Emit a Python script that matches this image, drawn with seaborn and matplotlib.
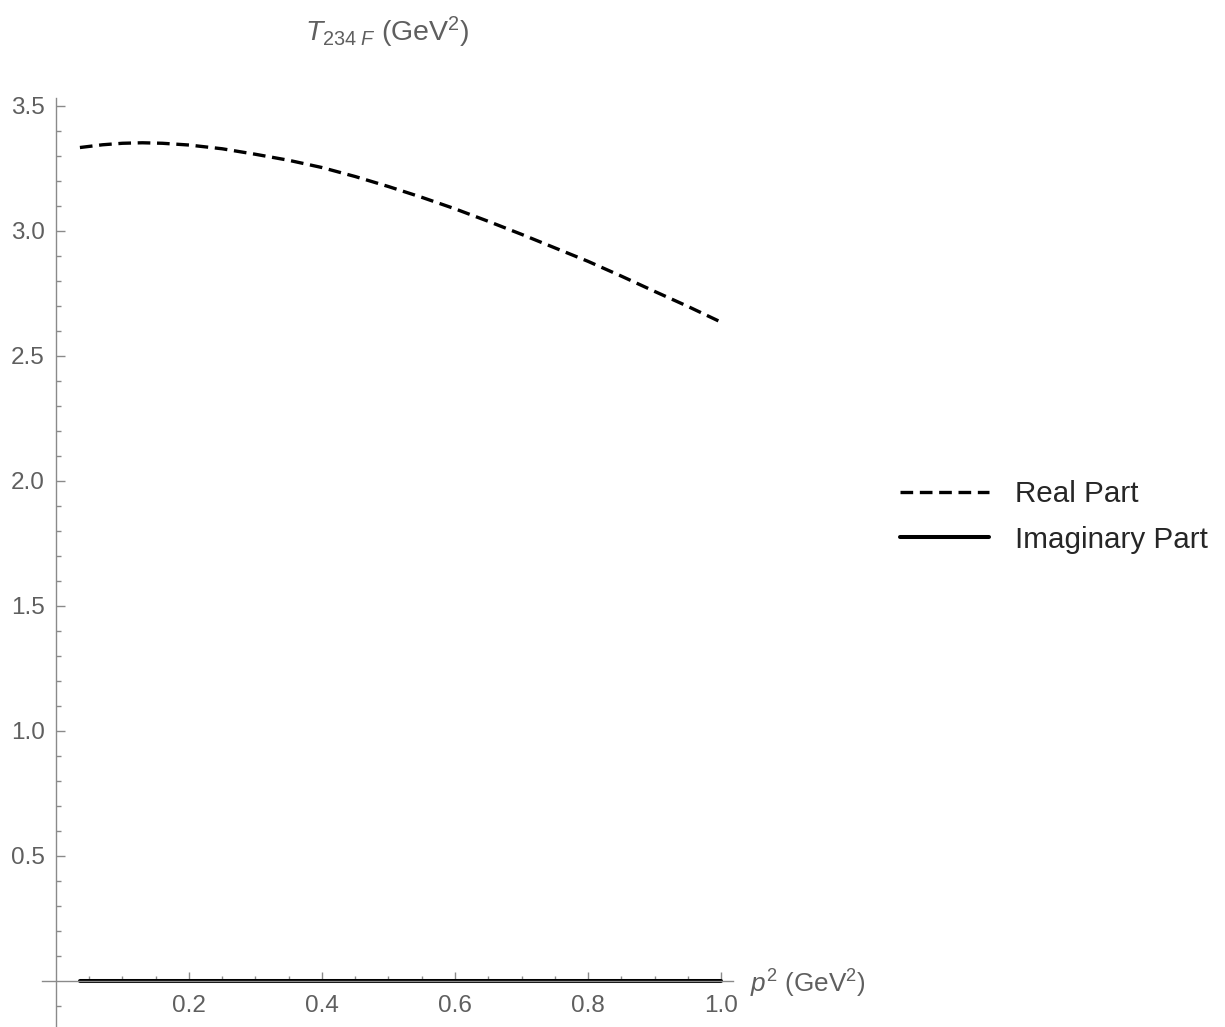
import numpy as np
import pandas as pd
import seaborn as sns
import matplotlib
matplotlib.use("Agg")
import matplotlib.pyplot as plt
from matplotlib.lines import Line2D

# ---- data ----
p2 = [0.036, 0.07, 0.10, 0.13, 0.16, 0.20, 0.25, 0.30, 0.35, 0.40, 0.45, 0.50,
      0.55, 0.60, 0.65, 0.70, 0.75, 0.80, 0.85, 0.90, 0.95, 1.00]
real_part = [3.332, 3.343, 3.349, 3.351, 3.349, 3.342, 3.327, 3.305, 3.281, 3.252,
             3.216, 3.176, 3.133, 3.087, 3.037, 2.985, 2.931, 2.877, 2.818, 2.757,
             2.697, 2.634]
imag_part = [0.0, 0.0, 0.0, 0.0, 0.0, 0.0, 0.0, 0.0, 0.0, 0.0, 0.0, 0.0,
             0.0, 0.0, 0.0, 0.0, 0.0, 0.0, 0.0, 0.0, 0.0, 0.0]

x_major = [0.2, 0.4, 0.6, 0.8, 1.0]
x_major_labels = ["0.2", "0.4", "0.6", "0.8", "1.0"]
y_major = [0.5, 1.0, 1.5, 2.0, 2.5, 3.0, 3.5]
y_major_labels = ["0.5", "1.0", "1.5", "2.0", "2.5", "3.0", "3.5"]
series_names = ["Real Part", "Imaginary Part"]

df = pd.DataFrame({"p2": p2, "real": real_part, "imag": imag_part})

sns.set_style("white")
plt.rcParams["font.family"] = ["Liberation Sans", "DejaVu Sans"]
plt.rcParams["mathtext.fontset"] = "custom"
plt.rcParams["mathtext.rm"] = "Liberation Sans"
plt.rcParams["mathtext.it"] = "Liberation Sans:italic"
plt.rcParams["mathtext.bf"] = "Liberation Sans:bold"

GREY = "#8a8a8a"
LABEL = "#5f5f5f"
DASH = (0, (3.8, 2.0))

fig = plt.figure(figsize=(12.25, 10.27), dpi=100)
ax = fig.add_axes([42 / 1225, 0.0, (733 - 42) / 1225, (1027 - 98) / 1027])

sns.lineplot(data=df, x="p2", y="real", ax=ax, color="black", lw=2.4,
             linestyle=DASH, legend=False)
sns.lineplot(data=df, x="p2", y="imag", ax=ax, color="black", lw=2.9,
             legend=False)

ax.set_xlim(-0.021, 1.018)
ax.set_ylim(-0.184, 3.53)

for s in ["top", "right"]:
    ax.spines[s].set_visible(False)
ax.spines["left"].set_position(("data", 0))
ax.spines["bottom"].set_position(("data", 0))
for s in ["left", "bottom"]:
    ax.spines[s].set_color(GREY)
    ax.spines[s].set_linewidth(1.0)
    ax.spines[s].set_zorder(3)

ax.set_xticks(x_major, x_major_labels)
ax.set_yticks(y_major, y_major_labels)
x_minor = [round(0.05 * i, 2) for i in range(1, 20) if i % 4 != 0]
y_minor = [round(0.1 * i, 2) for i in range(-1, 36) if i % 5 != 0]
ax.set_xticks(x_minor, minor=True)
ax.set_yticks(y_minor, minor=True)
ax.tick_params(which="both", bottom=True, left=True, top=False, right=False)
ax.tick_params(which="major", direction="in", length=6.5, width=1.0,
               color=GREY, labelcolor=LABEL, labelsize=17.5)
ax.tick_params(axis="x", which="major", pad=10)
ax.tick_params(axis="y", which="major", pad=8)
ax.tick_params(which="minor", direction="in", length=3.6, width=1.0, color=GREY)
ax.set_xlabel("")
ax.set_ylabel("")
ax.grid(False)

ax.text(1.044, -0.01, r"$p^2$ (GeV$^2$)", ha="left", va="center",
        color=LABEL, fontsize=18.8, clip_on=False)
fig.text(387 / 1225, 1 - 32 / 1027, r"$T_{234\;F}$ (GeV$^2$)", ha="center",
         va="center", color=LABEL, fontsize=20.5)

handles = [Line2D([], [], color="black", lw=2.4, linestyle=DASH),
           Line2D([], [], color="black", lw=2.9)]
fig.legend(handles, series_names, loc="upper left",
           bbox_to_anchor=(900 / 1225, 1 - 480 / 1027), frameon=False,
           fontsize=21.3, handlelength=3.0, handletextpad=0.9,
           labelspacing=0.6, borderpad=0, borderaxespad=0)

fig.savefig("out.png", dpi=100, facecolor="white")
